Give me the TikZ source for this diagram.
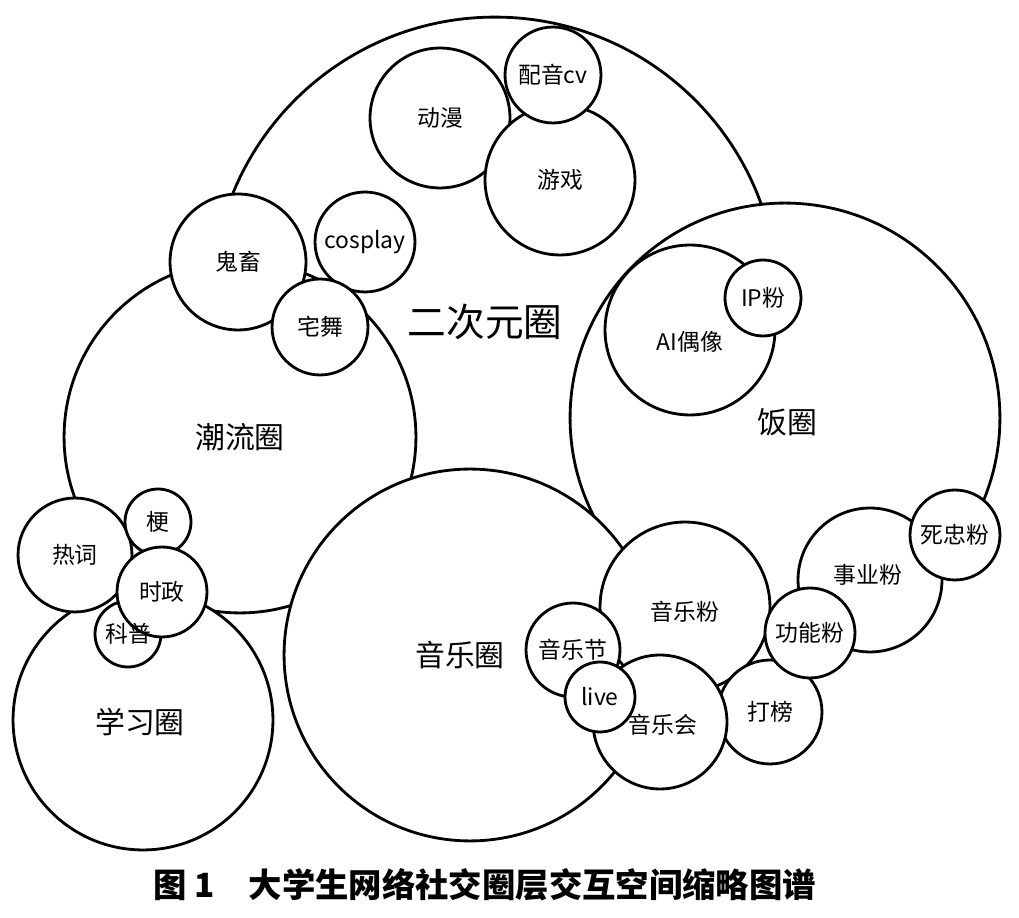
\documentclass[tikz,border=0pt]{standalone}
\usepackage{fontspec}
\setmainfont{Liberation Sans}
\newfontfamily\cjk{Noto Sans CJK SC}
\begin{document}
\begin{tikzpicture}[x=0.02cm,y=-0.02cm,
  circ/.style={circle,draw=black,line width=1.6pt,fill=white,inner sep=0pt},
  small/.style={font=\cjk\fontsize{13}{15}\selectfont},
  big/.style={font=\cjk\fontsize{17}{19}\selectfont}]
\useasboundingbox (0,0) rectangle (1019,918);
\def\C#1#2#3#4{\node[circ,minimum size=#3*0.04cm] (#1) at #2 {}; }
\C{ecy}{(495,300)}{283}{}
\C{dm}{(440,118)}{70}{}
\C{yx}{(560,180)}{75}{}
\C{cv}{(553,75)}{48}{}
\C{chl}{(240,437)}{176}{}
\C{gc}{(238,262)}{68}{}
\C{cos}{(365,242)}{50}{}
\C{zw}{(320,327)}{48}{}
\C{fq}{(785,418)}{215}{}
\C{ai}{(690,330)}{85}{}
\C{ip}{(763,298)}{38}{}
\C{xx}{(143,720)}{130}{}
\C{rc}{(75,555)}{57}{}
\C{kp}{(128,634)}{33}{}
\C{geng}{(158,522)}{33}{}
\C{sz}{(162,592)}{45}{}
\C{yy}{(470,655)}{186}{}
\C{sy}{(870,580)}{72}{}
\C{szf}{(955,535)}{45}{}
\C{yyf}{(685,607)}{85}{}
\C{db}{(770,712)}{52}{}
\C{yyj}{(573,650)}{47}{}
\C{yyh}{(660,722)}{67}{}
\C{live}{(600,697)}{35}{}
\C{gn}{(810,633)}{45}{}
\node[big] (t1) at (485,322) {\fontsize{22}{24}\selectfont 二次元圈};
\node[small] at (dm) {动漫};
\node[small] at (yx) {游戏};
\node[small] at (553,75) {配音cv};
\node[small] at (gc) {鬼畜};
\node[small] at (cos) {cosplay};
\node[small] at (zw) {宅舞};
\node[big] at (240,437) {潮流圈};
\node[big] at (787,422) {饭圈};
\node[small] at (690,342) {AI偶像};
\node[small] at (ip) {IP粉};
\node[big] at (140,722) {学习圈};
\node[small] at (rc) {热词};
\node[small] at (kp) {科普};
\node[small] at (geng) {梗};
\node[small] at (sz) {时政};
\node[big] at (460,655) {音乐圈};
\node[small] at (868,575) {事业粉};
\node[small] at (szf) {死忠粉};
\node[small] at (685,612) {音乐粉};
\node[small] at (db) {打榜};
\node[small] at (573,650) {音乐节};
\node[small] at (663,725) {音乐会};
\node[small] at (live) {live};
\node[small] at (gn) {功能粉};
\node[font=\cjk\bfseries\fontsize{19}{21}\selectfont] (cap) at (485,885) {图 1\quad 大学生网络社交圈层交互空间缩略图谱};
\end{tikzpicture}
\end{document}
